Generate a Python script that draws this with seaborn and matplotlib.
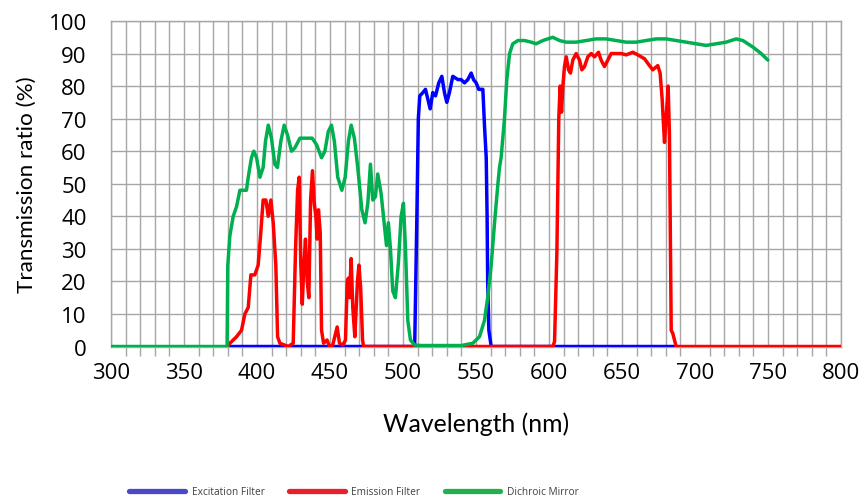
import numpy as np
import pandas as pd
import seaborn as sns
import matplotlib
matplotlib.use("Agg")
import matplotlib.pyplot as plt
from matplotlib.lines import Line2D
from matplotlib.ticker import MultipleLocator

# ---- data ----
wl_excitation = [380, 508, 509.5, 510.5, 511.5, 513.6, 515.4, 517, 518.6, 520.4, 522.3, 524.5,
                 526.6, 528.4, 530, 531.8, 534.1, 537.6, 539.8, 542.1, 544.4, 546.7, 548.3,
                 550.1, 551.9, 553.5, 554.7, 555.8, 557, 557.6, 558, 558.8, 560.4, 688]
tr_excitation = [0, 0, 40, 70, 77, 78, 79, 76, 73, 78, 77, 81,
                 83, 78, 75, 78, 83, 82, 82, 81, 82, 84, 82,
                 81, 79, 79, 79, 68, 58, 40, 20, 5, 0, 0]

wl_emission = [380, 381.4, 386, 389.4, 391.7, 394, 395.8, 398.5, 400.8, 402.6, 404.2, 406.1,
               407.7, 409.5, 411.1, 412.9, 414.1, 415.7, 421.4, 424.8, 426.4, 427.8, 428.9,
               430, 431, 432.1, 433.2, 434.4, 435.5, 436.7, 438, 439.2, 440.3, 441.2, 442.1,
               443.3, 444.2, 445.6, 448, 449.6, 451.9, 454.9, 456.5, 458.8, 460.6, 461.8,
               462.6, 463.3, 464.5, 465.6, 467, 468.8, 469.8, 471, 472.3, 473,
               602.6, 603.8, 605.4, 606.7, 607.6, 608.6, 609.5, 610.6, 611.8, 613.4, 614.7,
               616.3, 618.6, 620.9, 622.5, 624.3, 626.6, 628.9, 631.2, 633.9, 635.7, 638,
               640.3, 642.6, 646, 649.4, 652.9, 657.4, 660.8, 665.4, 668.8, 671.1, 674.5,
               676.1, 677.5, 679.1, 680.2, 681.6, 682.5, 683.7, 684.8, 687.1, 800]
tr_emission = [0, 1, 3, 5, 10, 12, 22, 22, 25, 35, 45, 45,
               40, 45, 38, 25, 3, 1, 0, 1, 30, 48, 52,
               25, 13, 25, 33, 20, 15, 45, 54, 44, 40, 33, 42,
               35, 5, 1, 2, 0, 0.5, 6, 1, 0.5, 2, 20,
               21, 15, 27, 12, 3, 20, 25, 18, 2, 0,
               0, 1.5, 29, 70, 80, 72, 80, 86, 89, 85, 84,
               88, 90, 88, 85, 86, 89, 90, 89, 90.4, 88, 86,
               88, 90, 90, 90, 89.6, 90.4, 89.6, 88.4, 86.3, 85, 86.3,
               84, 76, 62.7, 70, 80, 65, 5, 4, 0, 0]

wl_dichroic = [300, 379.5, 380, 381.4, 383.7, 386, 388.3, 392.8, 394, 396.2, 397.8, 399.7,
               402, 404.2, 405.8, 407.7, 409.9, 412.2, 414, 416.3, 418.6, 420.9, 423.6,
               425.9, 429.4, 432.8, 435.5, 437.8, 440.8, 444.2, 446.5, 448.8, 451, 453,
               455.3, 458.1, 460.4, 462.6, 464.5, 466.7, 469, 471.8, 474, 475.9, 477.7,
               479.3, 481.1, 482.7, 485, 487.3, 488.7, 490, 491.4, 493, 494.8, 496.9,
               498.7, 500.3, 501.7, 503.3, 505.1, 507.8, 512.4, 540, 547.8, 552.4, 555.8,
               558, 560.4, 562.7, 565, 566.1, 567.2, 569.5, 571.1, 573, 575.2, 578.7,
               583.2, 587.8, 591.2, 595.8, 599.2, 602.6, 607.2, 611.8, 618.6, 625.5,
               632.3, 639.2, 646, 652.9, 659.7, 666.5, 673.4, 680.2, 687.1, 694, 700.8,
               707.6, 714.5, 721.3, 728.2, 732.8, 739.6, 745.3, 749.9]
tr_dichroic = [0, 0, 25, 34, 40, 43, 48, 48, 52, 58, 60, 58,
               52, 55, 63, 68, 64, 56, 55, 63, 68, 65, 60,
               61, 64, 64, 64, 64, 62, 58, 60, 66, 68, 63,
               52, 48, 52, 63, 68, 64, 55, 42, 38, 44, 56,
               45, 46, 53, 47, 37, 31, 38, 30, 17, 15, 26,
               40, 44, 30, 8, 2, 0.5, 0.3, 0.3, 1, 3, 8,
               15, 25, 38, 50, 55, 58, 70, 82, 90, 93, 94,
               94, 93.5, 93, 94, 94.5, 95, 94, 93.5, 93.5, 94,
               94.5, 94.5, 94, 93.5, 93.5, 94, 94.5, 94.5, 94, 93.5, 93,
               92.5, 93, 93.5, 94.5, 94, 92, 90, 88]

series_names = ["Excitation Filter", "Emission Filter", "Dichroic Mirror"]
x_ticks = [300, 350, 400, 450, 500, 550, 600, 650, 700, 750, 800]
y_ticks = [0, 10, 20, 30, 40, 50, 60, 70, 80, 90, 100]

line_colors = ["#0000ff", "#ff0000", "#00b050"]
legend_colors = ["#4848c8", "#e8202a", "#22b04e"]

df = pd.concat([
    pd.DataFrame({"Wavelength": wl_excitation, "T": tr_excitation, "Series": series_names[0]}),
    pd.DataFrame({"Wavelength": wl_emission, "T": tr_emission, "Series": series_names[1]}),
    pd.DataFrame({"Wavelength": wl_dichroic, "T": tr_dichroic, "Series": series_names[2]}),
], ignore_index=True)

sns.set_theme(style="white")
plt.rcParams["font.family"] = ["Open Sans", "DejaVu Sans"]

fig = plt.figure(figsize=(8.65, 5.02), dpi=100)
ax = fig.add_axes([111 / 865, 1 - 347.5 / 502, 730 / 865, 325.5 / 502])

sns.lineplot(data=df, x="Wavelength", y="T", hue="Series", hue_order=series_names,
             palette=line_colors, estimator=None, sort=False, linewidth=2.5,
             legend=False, ax=ax, zorder=3)

grid_c = "#a6a6a6"
ax.set_xlim(300, 800)
ax.set_ylim(0, 100)
ax.xaxis.set_major_locator(MultipleLocator(50))
ax.xaxis.set_minor_locator(MultipleLocator(10))
ax.set_xticks(x_ticks)
ax.set_yticks(y_ticks)
ax.grid(True, which="both", color=grid_c, linewidth=1.0)
ax.set_axisbelow(True)
for s in ax.spines.values():
    s.set_visible(True)
    s.set_color(grid_c)
    s.set_linewidth(1.0)
ax.tick_params(axis="both", which="both", direction="out", length=6.5, width=1.0,
               color=grid_c, labelsize=16, labelcolor="#000000")
ax.tick_params(axis="x", which="both", pad=5)
ax.tick_params(axis="y", which="both", pad=11)
ax.tick_params(axis="x", which="minor", bottom=True)

label_font = ["Lato", "DejaVu Sans"]
ax.set_xlabel("Wavelength (nm)", fontsize=17.8, labelpad=20, color="#000000",
              family=label_font)
ax.set_ylabel("Transmission ratio (%)", fontsize=16.2, labelpad=8, color="#000000",
              family=label_font)

handles = [Line2D([0], [0], color=c, linewidth=3.8, solid_capstyle="round") for c in legend_colors]
fig.legend(handles, series_names, loc="center", bbox_to_anchor=(354 / 865, 1 - 493 / 502),
           ncol=3, frameon=False, fontsize=7.3, handlelength=5.5, handletextpad=0.65,
           columnspacing=2.4, labelcolor="#404040")

fig.savefig("out.png", dpi=100)
